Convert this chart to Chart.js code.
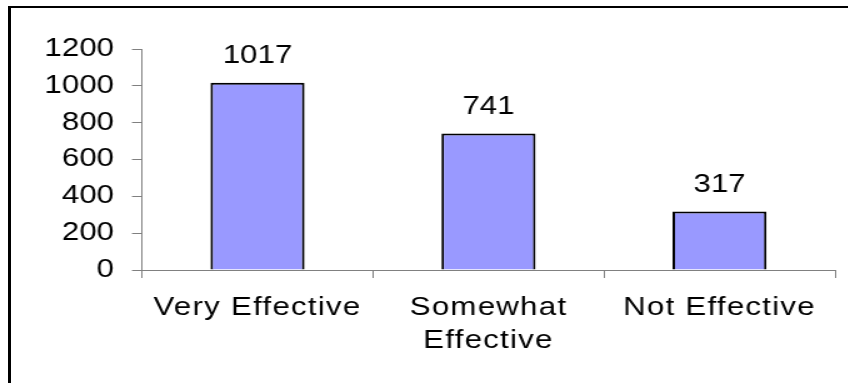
<!DOCTYPE html>
<html>
<head>
<meta charset="utf-8">
<script src="https://cdn.jsdelivr.net/npm/chart.js@4/dist/chart.umd.min.js"></script>
<style>
  html, body { margin: 0; padding: 0; background: #fff; overflow: hidden; }
  #frame { position: absolute; left: 8px; top: 6px; width: 900px; height: 400px;
           border-top: 2px solid #000; border-left: 3px solid #000; }
  #wrap { position: absolute; left: 0; top: 0; width: 679px; height: 383px;
          transform: scaleX(1.25); transform-origin: 0 0; }
</style>
</head>
<body>
<div id="frame"></div>
<div id="wrap"><canvas id="effChart" width="679" height="383"></canvas></div>
<script>
const categories = ["Very Effective", ["Somewhat", "Effective"], "Not Effective"];
const responses = [1017, 741, 317];
const yTicks = [0, 200, 400, 600, 800, 1000, 1200];

const FONT = "'Liberation Sans', Arial, sans-serif";

// value labels over the bars, then widen letters for the category labels
const valueLabels = {
  id: "valueLabels",
  beforeDraw(chart) {
    chart.ctx.letterSpacing = "0px";
  },
  afterDatasetsDraw(chart) {
    const ctx = chart.ctx;
    const meta = chart.getDatasetMeta(0);
    ctx.save();
    ctx.font = "25px " + FONT;
    ctx.fillStyle = "#000";
    ctx.textAlign = "center";
    ctx.textBaseline = "alphabetic";
    meta.data.forEach((bar, i) => {
      ctx.fillText(String(responses[i]), bar.x, bar.y - 19.5);
    });
    ctx.restore();
    ctx.letterSpacing = "1px";
  },
  afterDraw(chart) {
    chart.ctx.letterSpacing = "0px";
  },
};

const ctx = document.getElementById("effChart");
new Chart(ctx, {
  type: "bar",
  data: {
    labels: categories,
    datasets: [
      {
        data: responses,
        backgroundColor: "#9999ff",
        borderColor: "#000",
        borderWidth: 2,
        barPercentage: 0.407,
        categoryPercentage: 1,
      },
    ],
  },
  options: {
    responsive: false,
    animation: false,
    devicePixelRatio: 1,
    layout: { padding: { left: 0, right: 11, top: 49, bottom: 0 } },
    plugins: { legend: { display: false }, tooltip: { enabled: false } },
    scales: {
      x: {
        offset: true,
        afterFit: (s) => { s.height = 113; },
        grid: {
          offset: true,
          drawOnChartArea: false,
          drawTicks: true,
          tickLength: 8,
          tickColor: "#808080",
        },
        border: { display: true, color: "#808080", width: 1 },
        ticks: {
          z: 1,
          color: "#000",
          padding: 14,
          maxRotation: 0,
          autoSkip: false,
          font: { family: FONT, size: 25, lineHeight: 1.32 },
        },
      },
      y: {
        min: 0,
        max: 1200,
        afterFit: (s) => { s.width = 113.6; },
        afterBuildTicks: (s) => { s.ticks = yTicks.map((v) => ({ value: v })); },
        grid: {
          drawOnChartArea: false,
          drawTicks: true,
          tickLength: 8,
          tickColor: "#808080",
        },
        border: { display: true, color: "#808080", width: 1 },
        ticks: {
          z: -1,
          color: "#000",
          padding: 14.4,
          callback: (v) => String(v),
          font: { family: FONT, size: 25 },
        },
      },
    },
  },
  plugins: [valueLabels],
});
</script>
</body>
</html>
